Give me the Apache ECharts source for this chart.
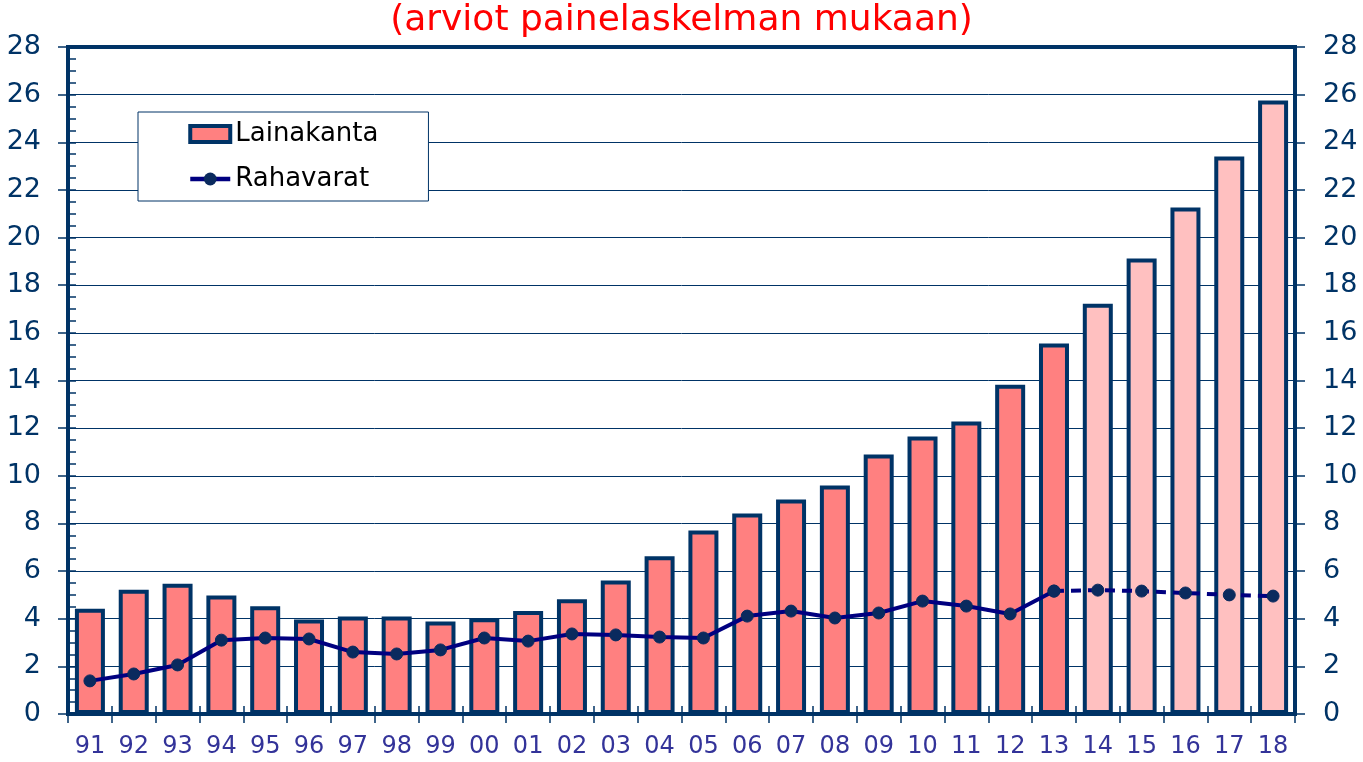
<!DOCTYPE html>
<html>
<head>
<meta charset="utf-8">
<script src="https://cdn.jsdelivr.net/npm/echarts@6/dist/echarts.min.js"></script>
<style>
html,body{margin:0;padding:0;background:#fff;}
#chart{width:1363px;height:762px;}
</style>
</head>
<body>
<div id="chart"></div>
<script>
const titleText = '(arviot painelaskelman mukaan)';
const years = ['91','92','93','94','95','96','97','98','99','00','01','02','03','04','05','06','07','08','09','10','11','12','13','14','15','16','17','18'];
const lainakanta = [4.42,5.22,5.47,4.97,4.52,3.97,4.09,4.09,3.88,4.02,4.32,4.82,5.6,6.62,7.7,8.42,9.0,9.59,10.89,11.65,12.28,13.82,15.55,17.22,19.12,21.26,23.4,25.75];
const rahavarat = [1.39,1.68,2.06,3.1,3.19,3.15,2.6,2.52,2.69,3.19,3.06,3.36,3.32,3.23,3.19,4.11,4.32,4.03,4.24,4.74,4.53,4.2,5.16,5.2,5.16,5.08,5.0,4.95];
const lastActual = '13';
const yTicks = {min:0, max:28, interval:2};

const lastIdx = years.indexOf(lastActual);
const navy = '#003366';
const font = 'DejaVu Sans';

const barData = lainakanta.map((v,i)=> i > lastIdx ? {value:v, itemStyle:{color:'#FFC0C0'}} : v);
const lineSolid = rahavarat.map((v,i)=> i <= lastIdx ? v : '-');
const lineDashed = rahavarat.map((v,i)=> i >= lastIdx ? v : '-');

const chart = echarts.init(document.getElementById('chart'), null, {renderer:'canvas'});
chart.setOption({
  animation:false,
  backgroundColor:'#ffffff',
  title:{text:titleText,left:'center',top:-2,textStyle:{color:'#FF0000',fontSize:36,fontWeight:'normal',fontFamily:font}},
  legend:{
    orient:'vertical',left:138,top:112,
    data:[
      {name:'Lainakanta',icon:'rect',itemStyle:{color:'#FF8080',borderColor:navy,borderWidth:4}},
      {name:'Rahavarat',lineStyle:{color:'#000080',width:4.5}}
    ],
    backgroundColor:'#ffffff',borderColor:navy,borderWidth:1,
    padding:[9,50,9,50],itemGap:19,itemWidth:40,itemHeight:16,
    textStyle:{color:'#000000',fontSize:26,fontFamily:font}
  },
  grid:{left:68,right:68,top:47,bottom:48,show:true,borderColor:navy,borderWidth:4,backgroundColor:'transparent'},
  xAxis:[
    {type:'category',data:years,position:'bottom',
     axisLine:{show:false},
     axisTick:{show:true,length:9,lineStyle:{color:navy,width:1.5}},
     axisLabel:{color:'#333399',fontSize:24,fontFamily:font,margin:21},
     splitLine:{show:false}},
    {type:'category',data:years,position:'bottom',
     axisLine:{show:false},
     axisTick:{show:true,inside:true,length:8,lineStyle:{color:navy,width:1.5}},
     axisLabel:{show:false},splitLine:{show:false}}
  ],
  yAxis:[
    {type:'value',position:'left',min:yTicks.min,max:yTicks.max,interval:yTicks.interval,
     axisLine:{show:false},
     axisTick:{show:true,length:10,lineStyle:{color:navy,width:1.5}},
     axisLabel:{color:navy,fontSize:27,fontFamily:font,margin:27},
     splitLine:{show:true,lineStyle:{color:navy,width:1}}},
    {type:'value',position:'left',min:yTicks.min,max:yTicks.max,interval:yTicks.interval/4,
     axisLine:{show:false},
     axisTick:{show:true,inside:true,length:8,lineStyle:{color:navy,width:1.5}},
     axisLabel:{show:false},splitLine:{show:false}},
    {type:'value',position:'right',min:yTicks.min,max:yTicks.max,interval:yTicks.interval,
     axisLine:{show:false},
     axisTick:{show:true,length:10,lineStyle:{color:navy,width:1.5}},
     axisLabel:{color:navy,fontSize:27,fontFamily:font,margin:28},
     splitLine:{show:false}}
  ],
  series:[
    {name:'Lainakanta',type:'bar',xAxisIndex:0,yAxisIndex:0,data:barData,barWidth:30,
     itemStyle:{color:'#FF8080',borderColor:navy,borderWidth:4}},
    {name:'Rahavarat',type:'line',xAxisIndex:0,yAxisIndex:0,data:lineSolid,
     symbol:'circle',symbolSize:12,
     lineStyle:{color:'#000080',width:4},
     itemStyle:{color:'#0a2a5e',borderColor:'#0a2a5e'},z:5},
    {name:'RahavaratEnnuste',type:'line',xAxisIndex:0,yAxisIndex:0,data:lineDashed,
     symbol:'circle',symbolSize:12,
     lineStyle:{color:'#000080',width:4,type:[10,7]},
     itemStyle:{color:'#0a2a5e',borderColor:'#0a2a5e'},z:5}
  ]
});
</script>
</body>
</html>
